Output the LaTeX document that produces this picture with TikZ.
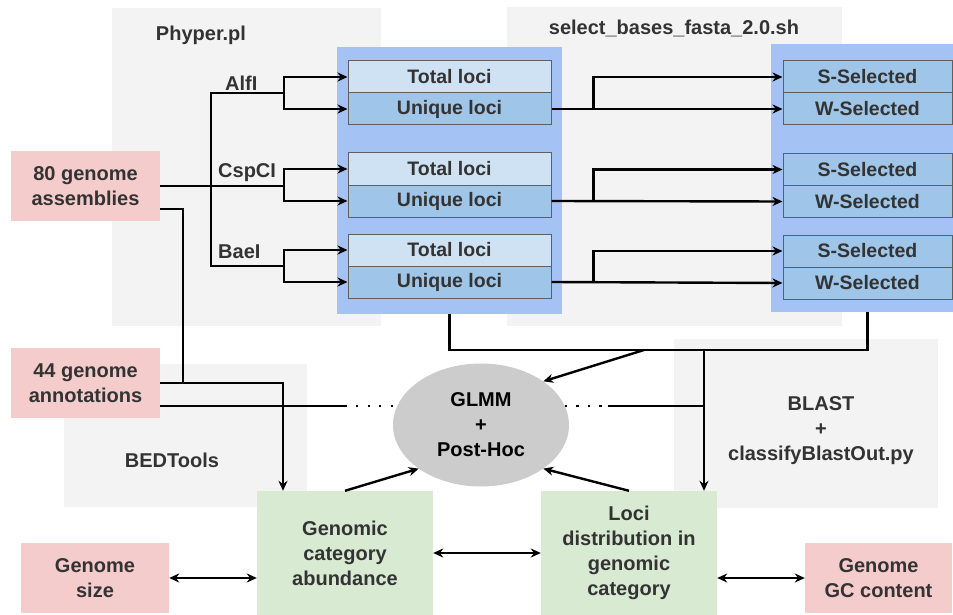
\documentclass[tikz,border=0pt]{standalone}
\usepackage{fontspec}
\setmainfont{Liberation Sans}
\usetikzlibrary{arrows.meta,calc,shapes.geometric}
\definecolor{pinkc}{HTML}{F4CCCC}
\definecolor{greenc}{HTML}{D9EAD3}
\definecolor{bluebgc}{HTML}{A4C2F4}
\definecolor{lightc}{HTML}{CFE2F3}
\definecolor{midc}{HTML}{9FC5E8}
\definecolor{graybg}{HTML}{F3F3F3}
\definecolor{ellc}{HTML}{CCCCCC}
\definecolor{textc}{HTML}{333333}
\definecolor{edgec}{HTML}{5F5F5F}
\begin{document}
\begin{tikzpicture}[x=1pt,y=-1pt,
  txt/.style={font=\fontsize{20}{25}\selectfont\bfseries, text=textc, align=center, inner sep=0pt},
  bgbox/.style={fill=graybg, draw=none, inner sep=0pt},
  bluebox/.style={fill=bluebgc, draw=none, inner sep=0pt},
  cell/.style={txt, draw=edgec, line width=1pt, minimum height=32pt, font=\fontsize{19.5}{24}\selectfont\bfseries},
  leftcell/.style={cell, minimum width=203pt},
  rightcell/.style={cell, minimum width=169pt, fill=midc},
  pinkbox/.style={txt, fill=pinkc, draw=none},
  greenbox/.style={txt, fill=greenc, draw=none, minimum width=176pt, minimum height=124pt},
  lbl/.style={txt},
  conn/.style={line width=2.4pt, draw=black},
  arr/.style={conn, -{Stealth[length=10pt,width=9pt]}},
  darr/.style={conn, {Stealth[length=10pt,width=9pt]}-{Stealth[length=10pt,width=9pt]}},
  dots/.style={line width=2.4pt, dash pattern=on 2.4pt off 9.1pt}
]
\useasboundingbox (0,0) rectangle (953,615);
\fill[white] (0,0) rectangle (953,615);

% gray tool regions
\node[bgbox, minimum width=269pt, minimum height=318pt] (phyregion) at (246.5,167) {};
\node[bgbox, minimum width=335pt, minimum height=319pt] (selregion) at (674.5,166.5) {};
\node[bgbox, minimum width=243pt, minimum height=143pt] (bedregion) at (185.5,435.5) {};
\node[bgbox, minimum width=264pt, minimum height=169pt] (blastregion) at (806,423.5) {};

\node[lbl] (phylbl) at (201,35) {Phyper.pl};
\node[lbl] (sellbl) at (674,28) {select\_bases\_fasta\_2.0.sh};
\node[lbl] (bedlbl) at (172,460) {BEDTools};
\node[lbl] (blastlbl) at (821,431) {BLAST\\+\\classifyBlastOut.py};

% blue groups
\node[bluebox, minimum width=225pt, minimum height=267pt] (lblue) at (449.5,180.5) {};
\node[bluebox, minimum width=182pt, minimum height=268pt] (rblue) at (862,178) {};

% left cells
\node[leftcell, fill=lightc] (t1) at (449.5,77) {Total loci};
\node[leftcell, fill=midc] (u1) at (449.5,109) {Unique loci};
\node[leftcell, fill=lightc] (t2) at (449.5,169) {Total loci};
\node[leftcell, fill=midc] (u2) at (449.5,201) {Unique loci};
\node[leftcell, fill=lightc] (t3) at (449.5,250) {Total loci};
\node[leftcell, fill=midc] (u3) at (449.5,282) {Unique loci};

% right cells
\node[rightcell] (s1) at (867.5,77) {S-Selected};
\node[rightcell] (w1) at (867.5,109) {W-Selected};
\node[rightcell] (s2) at (867.5,169.5) {S-Selected};
\node[rightcell] (w2) at (867.5,201.5) {W-Selected};
\node[rightcell] (s3) at (867.5,251) {S-Selected};
\node[rightcell] (w3) at (867.5,283) {W-Selected};

% inputs
\node[pinkbox, minimum width=149pt, minimum height=70pt] (asm) at (85.5,186) {80 genome\\assemblies};
\node[pinkbox, minimum width=149pt, minimum height=70pt] (ann) at (85.5,383) {44 genome\\annotations};
\node[pinkbox, minimum width=148pt, minimum height=70pt] (gsize) at (95,578) {Genome\\size};
\node[pinkbox, minimum width=147pt, minimum height=70pt] (gc) at (878.5,578) {Genome\\GC content};

% green results
\node[greenbox] (genomic) at (345,553) {Genomic\\category\\abundance};
\node[greenbox] (loci) at (629,553) {Loci\\distribution in\\genomic\\category};

% GLMM
\node[ellipse, fill=ellc, draw=none, minimum width=176pt, minimum height=123pt, inner sep=0pt,
      font=\fontsize{20}{25}\selectfont\bfseries, text=black, align=center] (glmm) at (481,425) {GLMM\\+\\Post-Hoc};

% enzyme labels
\node[lbl, anchor=base west] (alfi) at (225,91) {AlfI};
\node[lbl, anchor=base west] (cspci) at (218,177) {CspCI};
\node[lbl, anchor=base west] (baei) at (218,258) {BaeI};

% Phyper branches
\coordinate (j1) at (284,93);
\coordinate (j2) at (284,186);
\coordinate (j3) at (284,266);
\coordinate (k1) at (211,93);
\coordinate (k3) at (211,266);
\draw[conn] (asm.east) -- (j2);
\draw[conn] (j1) -- (k1) -- (k3) -- (j3);
\draw[arr] (j1) |- (t1.west);
\draw[arr] (j1) |- (u1.west);
\draw[arr] (j2) |- (t2.west);
\draw[arr] (j2) |- (u2.west);
\draw[arr] (j3) |- (t3.west);
\draw[arr] (j3) |- (u3.west);

% selection branches
\foreach \u/\s/\w in {u1/s1/w1,u2/s2/w2,u3/s3/w3}{
  \draw[arr] (\u.east) -- (\w.west);
  \draw[arr] ($(\u.east)+(42,0)$) |- (\s.west);
}

% join of blue groups
\coordinate (lb) at (lblue.south);
\coordinate (rb) at (w3.south |- rblue.south);
\coordinate (m1) at (449.5,350);
\coordinate (m2) at (w3.south |- m1);
\draw[conn] (lb) -- (m1) -- (m2) -- (rb);
\coordinate (ga) at (644,350);
\draw[arr] (ga) -- (glmm.35);
\coordinate (lc) at (704,350);
\coordinate (lcend) at (704,406);
\draw[arr] (lc) -- (lc |- loci.north);

% annotations and assemblies to Genomic
\coordinate (a1) at ($(asm.east)+(0,23)$);
\coordinate (a2) at (183,383);
\coordinate (g1) at (283,383);
\draw[conn] (a1) -| (a2);
\draw[arr] (ann.east) -- (g1) -- (g1 |- genomic.north);

% annotations to GLMM (dotted ends)
\coordinate (d1) at ($(ann.east)+(0,23)$);
\coordinate (d2) at (347,406);
\coordinate (d3) at (356,406);
\coordinate (d4) at (394,406);
\draw[conn] (d1) -- (d2);
\draw[dots] (d3) -- (d4);
\coordinate (e1) at (608,406);
\coordinate (e2) at (601.5,406);
\coordinate (e3) at (565,406);
\draw[conn] (lcend) -- (e1);
\draw[dots] (e2) -- (e3);

% results to GLMM
\draw[arr] (genomic.north) -- (glmm.215);
\draw[arr] (loci.north) -- (glmm.-35);

% double arrows
\draw[darr] (gsize.east) -- (gsize.east -| genomic.west);
\draw[darr] (genomic.east) -- (loci.west);
\draw[darr] (gc.west -| loci.east) -- (gc.west);
\end{tikzpicture}
\end{document}
